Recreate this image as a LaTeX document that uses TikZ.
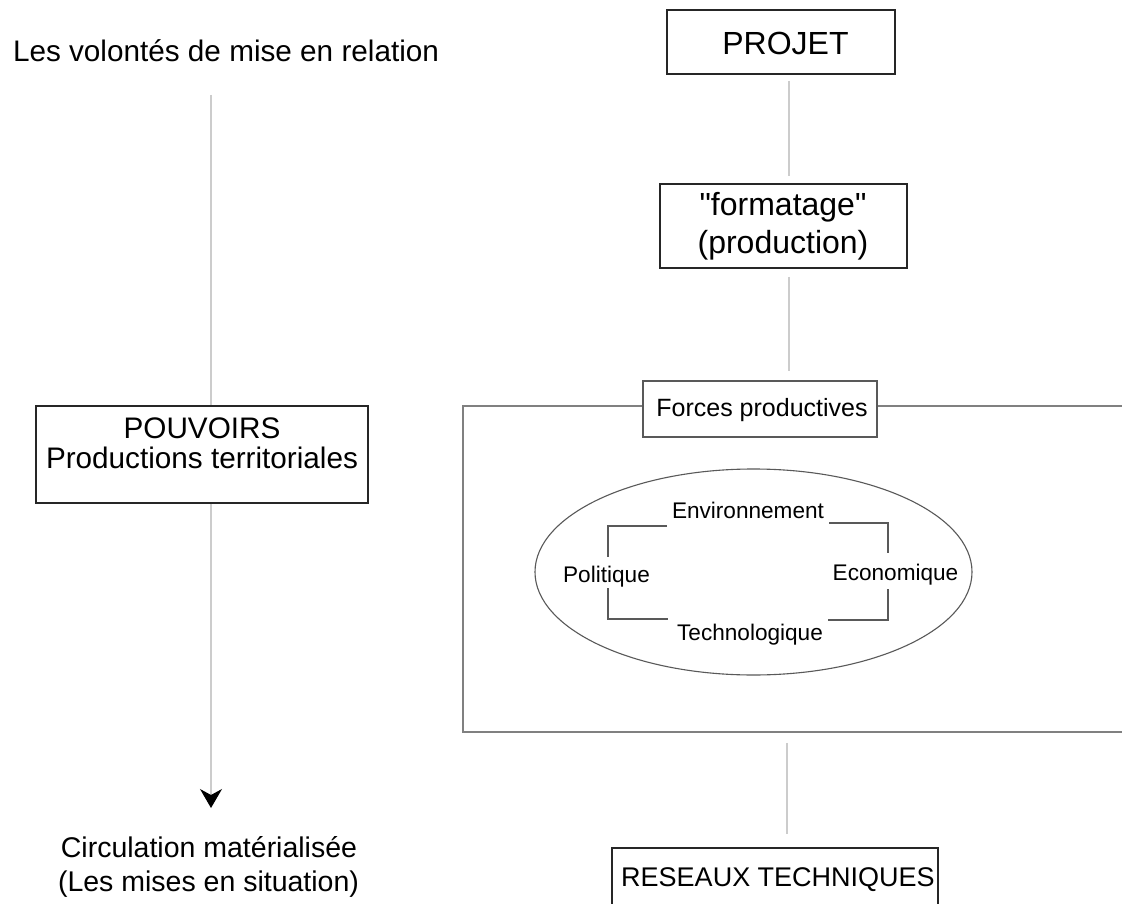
\documentclass[tikz,border=0pt]{standalone}
\usepackage{fontspec}
\setmainfont{Liberation Sans}[Ligatures=TeXOff]
\usetikzlibrary{shapes.geometric,arrows.meta}
\definecolor{linkgray}{gray}{0.80}
\definecolor{framegray}{gray}{0.50}
\definecolor{thingray}{gray}{0.35}
\definecolor{boxline}{gray}{0.15}

\begin{document}
\begin{tikzpicture}[x=1pt,y=-1pt,
  box/.style={draw=boxline, line width=1.8pt, fill=white, inner sep=0pt},
  thinbox/.style={draw=thingray, line width=1.1pt, fill=white, inner sep=0pt},
  frame/.style={draw=framegray, line width=1.6pt, inner sep=0pt},
  link/.style={draw=linkgray, line width=1.1pt},
  bracket/.style={draw=thingray, line width=1.1pt},
  txt/.style={inner sep=0pt, anchor=base, text=black},
  big/.style={font=\fontsize{29.7}{34}\selectfont},
  huge/.style={font=\fontsize{32}{38}\selectfont},
  mid/.style={font=\fontsize{27}{32}\selectfont},
  small/.style={font=\fontsize{25}{30}\selectfont},
  tiny/.style={font=\fontsize{22.6}{27}\selectfont}
]
\clip (0,0) rectangle (1122,904);
\fill[white] (0,0) rectangle (1122,904);

% ---------- left column ----------
\node[txt, big] (volontes) at (226,62) {Les volontés de mise en relation};

\node[box, minimum width=332pt, minimum height=97pt] (pouvoirs) at (202,454.5) {};
\node[txt, big] (pouvoirsA) at (202,438) {POUVOIRS};
\node[txt, big] (pouvoirsB) at (202,468) {Productions territoriales};

\node[txt, font=\fontsize{28.5}{34}\selectfont] (circA) at (209,857) {Circulation matérialisée};
\node[txt, font=\fontsize{28.5}{34}\selectfont] (circB) at (208.5,891) {(Les mises en situation)};

\coordinate (lx) at (211,95);
\coordinate (tip) at (211,808);
\draw[link] (lx) -- (pouvoirs.north -| lx);
\draw[link, -{Stealth[length=19pt,width=22pt,inset=6pt,color=black]}]
  (pouvoirs.south -| lx) -- (tip);

% ---------- right column ----------
\node[box, minimum width=228pt, minimum height=64pt] (projet) at (781,42) {};
\node[txt, huge] (projetT) at (785.5,55) {PROJET};

\node[box, minimum width=247pt, minimum height=84pt] (fmt) at (783.5,226) {};
\node[txt, huge] (fmtA) at (783,216) {"formatage"};
\node[txt, huge] (fmtB) at (783,254) {(production)};

% open frame of the productive forces
\node[frame, minimum width=677pt, minimum height=326pt] (frame) at (801.5,569) {};

\node[thinbox, minimum width=234pt, minimum height=56pt] (forces) at (760,409) {};
\node[txt, small] (forcesT) at (762,416) {Forces productives};

\node[ellipse, draw=thingray, line width=1.1pt, inner sep=0pt,
      minimum width=437pt, minimum height=206pt] (ell) at (753.5,572) {};
\node[txt, tiny] (env) at (748,518) {Environnement};
\node[txt, tiny] (pol) at (606.5,582) {Politique};
\node[txt, tiny] (eco) at (895.5,580) {Economique};
\node[txt, tiny] (tech) at (750,640) {Technologique};

\draw[bracket] (667,526) -| (608,557);
\draw[bracket] (608,588) |- (668,619);
\draw[bracket] (829,523) -| (888,553);
\draw[bracket] (888,589) |- (828,620);

\node[box, minimum width=326pt, minimum height=80pt] (reseaux) at (775,888) {};
\node[txt, mid] (reseauxT) at (778,886) {RESEAUX TECHNIQUES};

\coordinate (rx) at (789,0);
\coordinate (bx) at (787,0);
\draw[link, shorten <=6pt, shorten >=7pt] (projet.south -| rx) -- (fmt.north -| rx);
\draw[link, shorten <=8pt, shorten >=9pt] (fmt.south -| rx) -- (forces.north -| rx);
\draw[link, shorten <=10pt, shorten >=13pt] (frame.south -| bx) -- (reseaux.north -| bx);
\end{tikzpicture}
\end{document}
